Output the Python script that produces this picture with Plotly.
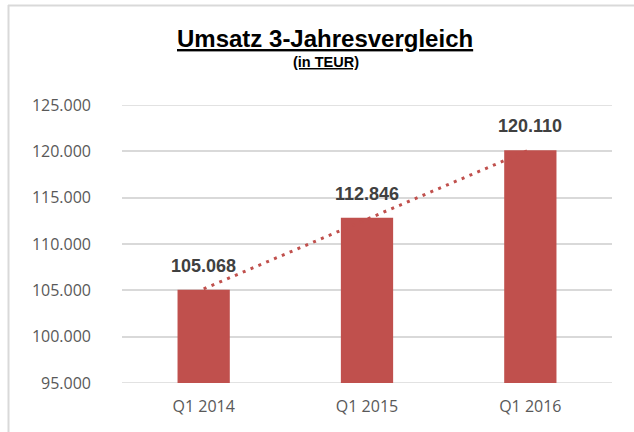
import numpy as np
import plotly.graph_objects as go

categories = ["Q1 2014", "Q1 2015", "Q1 2016"]
umsatz = [105068, 112846, 120110]
tick_vals = [95000, 100000, 105000, 110000, 115000, 120000, 125000]
y_min, y_max = 95000, 125000

W, H = 634, 432
L, R, T, B = 122, 22, 105, 49
pw, ph = W - L - R, H - T - B

def px_x(p):
    return (p - L) / pw

def px_y(p):
    return (H - B - p) / ph

# linear trendline (as Excel's)
xi = np.arange(len(umsatz))
slope, inter = np.polyfit(xi, umsatz, 1)
trend = [inter, inter + slope * (len(umsatz) - 1)]

fig = go.Figure()
fig.add_trace(go.Bar(
    x=categories, y=umsatz,
    marker=dict(color="#C0504D", line=dict(width=0)),
    hoverinfo="x+y",
))
fig.add_trace(go.Scatter(
    x=[categories[0], categories[-1]], y=trend,
    mode="lines",
    line=dict(color="#C0504D", width=3, dash="3px,5.5px"),
    hoverinfo="skip",
))

annotations = []
for c, v in zip(categories, umsatz):
    annotations.append(dict(
        x=c, y=v, xref="x", yref="y",
        text="<b>" + f"{v:,}".replace(",", ".") + "</b>",
        showarrow=False, yanchor="bottom", yshift=12,
        font=dict(family="Liberation Sans, Arial", size=18, color="#404040"),
    ))
annotations.append(dict(
    x=px_x(325), y=px_y(39), xref="paper", yref="paper",
    text="<b><u>Umsatz 3-Jahresvergleich</u></b>", showarrow=False,
    xanchor="center", yanchor="middle",
    font=dict(family="Liberation Sans, Arial", size=24, color="#000000"),
))
annotations.append(dict(
    x=px_x(326), y=px_y(62), xref="paper", yref="paper",
    text="<b><u>(in TEUR)</u></b>", showarrow=False,
    xanchor="center", yanchor="middle",
    font=dict(family="Liberation Sans, Arial", size=14.5, color="#000000"),
))

shapes = [
    dict(type="line", xref="paper", yref="paper",
         x0=px_x(8.5), x1=px_x(8.5), y0=px_y(5), y1=px_y(H + 5),
         line=dict(color="#d9d9d9", width=2)),
    dict(type="line", xref="paper", yref="paper",
         x0=px_x(8), x1=px_x(W + 5), y0=px_y(5.5), y1=px_y(5.5),
         line=dict(color="#d9d9d9", width=2)),
]
# edge gridlines (plotly drops gridlines at the exact range ends)
for yv in (y_min, y_max):
    shapes.append(dict(type="line", xref="paper", yref="y", layer="below",
                       x0=0, x1=1, y0=yv, y1=yv,
                       line=dict(color="#d9d9d9", width=1.5)))

fig.update_layout(
    width=W, height=H,
    margin=dict(l=L, r=R, t=T, b=B, pad=0),
    paper_bgcolor="white", plot_bgcolor="white",
    showlegend=False,
    bargap=0.68,
    separators=",.",
    annotations=annotations,
    shapes=shapes,
    xaxis=dict(
        showgrid=False, showline=False, zeroline=False,
        ticks="", tickfont=dict(family="Open Sans", size=16, color="#595959"),
        ticklabelstandoff=12,
    ),
    yaxis=dict(
        range=[y_min, y_max], tickvals=tick_vals,
        tickformat=",.0f",
        showgrid=True, gridcolor="#d9d9d9", gridwidth=1.5,
        zeroline=False, showline=False, ticks="",
        tickfont=dict(family="Open Sans", size=16, color="#595959"),
        ticklabelstandoff=30,
    ),
)

fig.write_html("out.html", config={"displayModeBar": False},
               post_script="document.body.style.margin='0';")
